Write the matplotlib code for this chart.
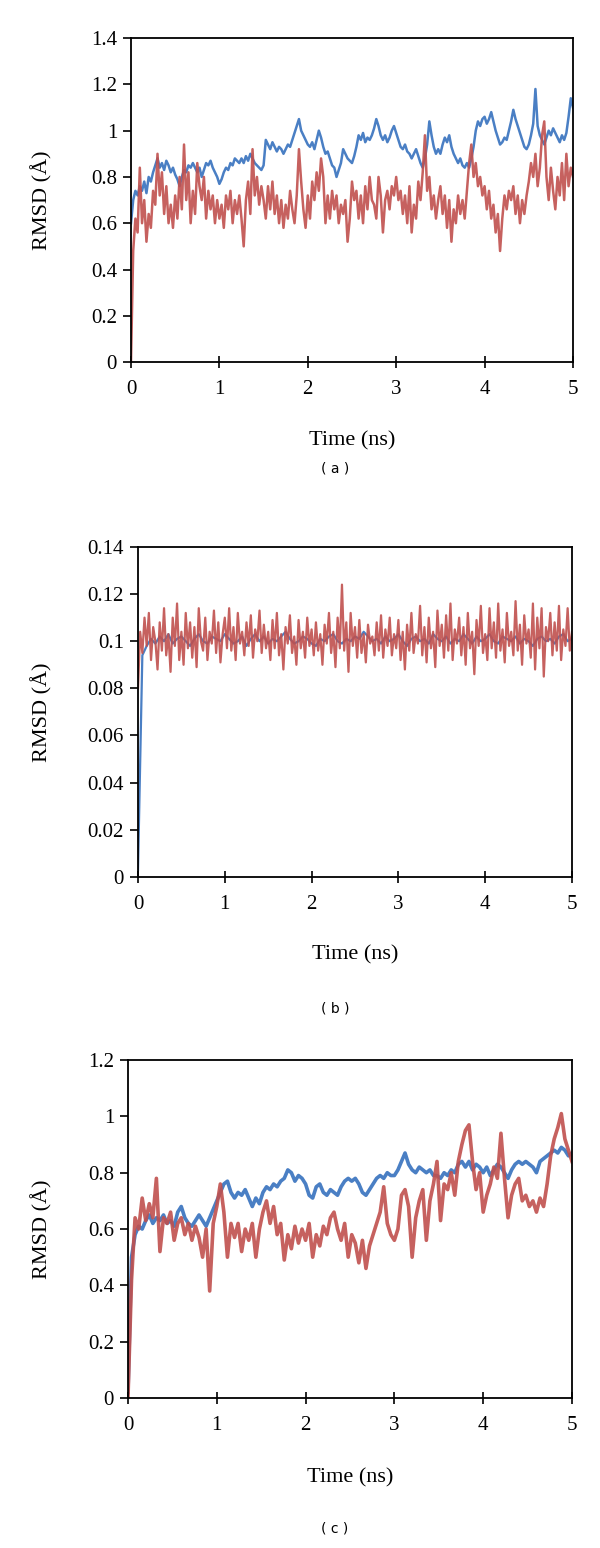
import numpy as np
import matplotlib.pyplot as plt
from matplotlib.ticker import FuncFormatter

# ---- panel (a) : 0.025 ns step ----
blue_a = [0.60, 0.70, 0.74, 0.72, 0.76, 0.74, 0.78, 0.73, 0.80, 0.78,
          0.82, 0.85, 0.88, 0.84, 0.86, 0.83, 0.87, 0.85, 0.82, 0.84,
          0.81, 0.79, 0.76, 0.80, 0.83, 0.82, 0.85, 0.84, 0.86, 0.84,
          0.82, 0.84, 0.80, 0.83, 0.86, 0.85, 0.87, 0.84, 0.82, 0.80,
          0.77, 0.79, 0.82, 0.84, 0.83, 0.86, 0.85, 0.88, 0.87, 0.86,
          0.88, 0.86, 0.89, 0.87, 0.90, 0.88, 0.86, 0.85, 0.84, 0.83,
          0.85, 0.96, 0.94, 0.92, 0.95, 0.93, 0.91, 0.93, 0.92, 0.90,
          0.92, 0.94, 0.93, 0.96, 0.99, 1.02, 1.05, 1.00, 0.98, 0.96,
          0.94, 0.93, 0.95, 0.92, 0.96, 1.00, 0.97, 0.93, 0.90, 0.91,
          0.88, 0.85, 0.84, 0.80, 0.83, 0.86, 0.92, 0.90, 0.88, 0.87,
          0.86, 0.89, 0.93, 0.98, 0.96, 0.99, 0.95, 0.97, 0.96, 0.98,
          1.01, 1.05, 1.02, 0.98, 0.96, 0.98, 0.95, 0.97, 1.00, 1.02,
          0.99, 0.96, 0.93, 0.92, 0.94, 0.91, 0.90, 0.88, 0.90, 0.92,
          0.89, 0.86, 0.84, 0.88, 0.94, 1.04, 0.98, 0.93, 0.90, 0.92,
          0.90, 0.94, 0.97, 0.95, 0.98, 0.93, 0.90, 0.88, 0.86, 0.88,
          0.85, 0.84, 0.86, 0.84, 0.88, 0.93, 1.00, 1.04, 1.02, 1.05,
          1.06, 1.03, 1.05, 1.08, 1.04, 1.00, 0.97, 0.94, 0.95, 0.97,
          0.96, 1.00, 1.04, 1.09, 1.05, 1.02, 0.99, 0.96, 0.93, 0.92,
          0.94, 0.98, 1.03, 1.18, 1.02, 0.98, 0.96, 0.94, 0.97, 1.00,
          0.98, 1.01, 0.99, 0.97, 0.95, 0.98, 0.96, 0.99, 1.06, 1.14,
          1.10]
red_a = [0.00, 0.48, 0.62, 0.56, 0.84, 0.60, 0.70, 0.52, 0.64, 0.58,
         0.74, 0.68, 0.90, 0.72, 0.82, 0.64, 0.76, 0.60, 0.68, 0.58,
         0.72, 0.62, 0.80, 0.66, 0.94, 0.70, 0.82, 0.60, 0.74, 0.64,
         0.86, 0.76, 0.70, 0.80, 0.62, 0.74, 0.66, 0.72, 0.60, 0.70,
         0.62, 0.68, 0.58, 0.72, 0.66, 0.74, 0.60, 0.70, 0.64, 0.72,
         0.62, 0.50, 0.70, 0.78, 0.64, 0.92, 0.72, 0.80, 0.68, 0.76,
         0.70, 0.62, 0.76, 0.66, 0.78, 0.64, 0.72, 0.60, 0.70, 0.58,
         0.68, 0.62, 0.74, 0.66, 0.60, 0.72, 0.92, 0.78, 0.66, 0.58,
         0.72, 0.62, 0.78, 0.70, 0.82, 0.74, 0.88, 0.80, 0.60, 0.72,
         0.62, 0.74, 0.66, 0.72, 0.60, 0.68, 0.64, 0.70, 0.52, 0.62,
         0.78, 0.70, 0.74, 0.62, 0.72, 0.60, 0.76, 0.66, 0.80, 0.70,
         0.68, 0.62, 0.80, 0.72, 0.56, 0.70, 0.74, 0.66, 0.76, 0.72,
         0.80, 0.70, 0.74, 0.64, 0.72, 0.60, 0.76, 0.56, 0.68, 0.62,
         0.78, 0.70, 0.82, 0.98, 0.74, 0.80, 0.66, 0.72, 0.62, 0.70,
         0.76, 0.64, 0.72, 0.58, 0.70, 0.52, 0.66, 0.60, 0.72, 0.64,
         0.70, 0.62, 0.74, 0.86, 0.94, 0.80, 0.86, 0.76, 0.80, 0.72,
         0.76, 0.66, 0.74, 0.62, 0.68, 0.56, 0.64, 0.48, 0.62, 0.72,
         0.66, 0.74, 0.70, 0.76, 0.64, 0.72, 0.60, 0.70, 0.64, 0.72,
         0.78, 0.86, 0.80, 0.90, 0.76, 0.84, 0.98, 1.04, 0.80, 0.70,
         0.84, 0.74, 0.66, 0.80, 0.72, 0.86, 0.70, 0.90, 0.76, 0.84,
         0.80]

# ---- panel (b) : blue 0.05 ns step, red 0.025 ns step ----
blue_b = [0.003, 0.094, 0.098, 0.101, 0.099, 0.102, 0.100, 0.103, 0.099, 0.101,
          0.102, 0.100, 0.098, 0.101, 0.103, 0.100, 0.099, 0.102, 0.101, 0.100,
          0.103, 0.101, 0.099, 0.100, 0.102, 0.098, 0.101, 0.103, 0.100, 0.102,
          0.099, 0.101, 0.100, 0.102, 0.104, 0.101, 0.099, 0.100, 0.102, 0.101,
          0.099, 0.098, 0.101, 0.100, 0.102, 0.103, 0.100, 0.099, 0.101, 0.100,
          0.102, 0.101, 0.104, 0.102, 0.100, 0.101, 0.099, 0.102, 0.100, 0.101,
          0.103, 0.100, 0.098, 0.101, 0.102, 0.100, 0.101, 0.099, 0.103, 0.101,
          0.100, 0.102, 0.099, 0.101, 0.100, 0.103, 0.101, 0.099, 0.102, 0.100,
          0.101, 0.103, 0.100, 0.099, 0.102, 0.101, 0.100, 0.102, 0.099, 0.101,
          0.100, 0.098, 0.101, 0.102, 0.100, 0.101, 0.099, 0.102, 0.103, 0.100,
          0.101]
red_b = [0.080, 0.104, 0.095, 0.110, 0.098, 0.112, 0.092, 0.106, 0.100, 0.088,
         0.108, 0.096, 0.114, 0.094, 0.103, 0.087, 0.110, 0.098, 0.116, 0.092,
         0.104, 0.090, 0.112, 0.097, 0.108, 0.093, 0.106, 0.089, 0.114, 0.100,
         0.096, 0.110, 0.092, 0.104, 0.099, 0.113, 0.095, 0.108, 0.091, 0.103,
         0.110, 0.097, 0.114, 0.096, 0.106, 0.092, 0.112, 0.099, 0.104, 0.094,
         0.108, 0.098, 0.111, 0.093, 0.105, 0.100, 0.113, 0.095, 0.107, 0.097,
         0.104, 0.092, 0.109, 0.097, 0.112, 0.094, 0.103, 0.088, 0.106, 0.099,
         0.111, 0.095, 0.102, 0.090, 0.109, 0.097, 0.104, 0.093, 0.110, 0.098,
         0.105, 0.094, 0.108, 0.096, 0.103, 0.090, 0.107, 0.099, 0.112, 0.095,
         0.104, 0.089, 0.110, 0.097, 0.124, 0.096, 0.108, 0.087, 0.112, 0.098,
         0.106, 0.093, 0.109, 0.095, 0.103, 0.091, 0.107, 0.099, 0.102, 0.094,
         0.108, 0.096, 0.111, 0.093, 0.105, 0.098, 0.110, 0.094, 0.103, 0.097,
         0.109, 0.092, 0.104, 0.088, 0.107, 0.096, 0.112, 0.095, 0.103, 0.099,
         0.115, 0.094, 0.106, 0.091, 0.110, 0.097, 0.104, 0.089, 0.113, 0.098,
         0.107, 0.093, 0.111, 0.096, 0.116, 0.092, 0.105, 0.099, 0.110, 0.094,
         0.106, 0.090, 0.112, 0.097, 0.104, 0.086, 0.109, 0.098, 0.115, 0.095,
         0.103, 0.092, 0.114, 0.097, 0.108, 0.093, 0.116, 0.096, 0.105, 0.091,
         0.112, 0.098, 0.104, 0.094, 0.117, 0.096, 0.107, 0.090, 0.111, 0.099,
         0.105, 0.093, 0.116, 0.088, 0.110, 0.097, 0.114, 0.085, 0.106, 0.100,
         0.112, 0.094, 0.108, 0.096, 0.115, 0.092, 0.105, 0.098, 0.114, 0.096,
         0.104]

# ---- panel (c) : 0.04 ns step ----
blue_c = [0.02, 0.50, 0.58, 0.61, 0.60, 0.63, 0.65, 0.62, 0.64, 0.63,
          0.65, 0.62, 0.63, 0.61, 0.66, 0.68, 0.64, 0.62, 0.61, 0.63,
          0.65, 0.63, 0.61, 0.64, 0.67, 0.70, 0.73, 0.76, 0.77, 0.73,
          0.71, 0.73, 0.72, 0.74, 0.71, 0.68, 0.71, 0.69, 0.73, 0.75,
          0.74, 0.76, 0.75, 0.77, 0.78, 0.81, 0.80, 0.77, 0.79, 0.78,
          0.76, 0.72, 0.71, 0.75, 0.76, 0.73, 0.72, 0.74, 0.73, 0.72,
          0.75, 0.77, 0.78, 0.77, 0.78, 0.76, 0.73, 0.72, 0.74, 0.76,
          0.78, 0.79, 0.78, 0.80, 0.79, 0.79, 0.81, 0.84, 0.87, 0.83,
          0.81, 0.80, 0.82, 0.81, 0.80, 0.81, 0.79, 0.79, 0.78, 0.80,
          0.79, 0.81, 0.80, 0.83, 0.84, 0.82, 0.84, 0.81, 0.83, 0.82,
          0.80, 0.82, 0.79, 0.81, 0.83, 0.82, 0.80, 0.78, 0.81, 0.83,
          0.84, 0.83, 0.84, 0.83, 0.82, 0.80, 0.84, 0.85, 0.86, 0.87,
          0.88, 0.87, 0.89, 0.88, 0.86, 0.87]
red_c = [0.00, 0.42, 0.64, 0.60, 0.71, 0.63, 0.69, 0.64, 0.78, 0.52,
         0.64, 0.62, 0.66, 0.56, 0.62, 0.64, 0.58, 0.62, 0.56, 0.61,
         0.57, 0.50, 0.60, 0.38, 0.62, 0.68, 0.76, 0.66, 0.50, 0.62,
         0.57, 0.62, 0.52, 0.60, 0.56, 0.62, 0.50, 0.60, 0.66, 0.70,
         0.62, 0.68, 0.58, 0.62, 0.49, 0.58, 0.53, 0.61, 0.55, 0.60,
         0.56, 0.62, 0.50, 0.58, 0.54, 0.61, 0.58, 0.64, 0.66, 0.60,
         0.56, 0.62, 0.50, 0.58, 0.55, 0.48, 0.56, 0.46, 0.54, 0.58,
         0.62, 0.66, 0.75, 0.62, 0.58, 0.56, 0.60, 0.72, 0.74, 0.68,
         0.50, 0.64, 0.70, 0.74, 0.56, 0.70, 0.76, 0.84, 0.63, 0.76,
         0.74, 0.80, 0.72, 0.84, 0.90, 0.95, 0.97, 0.84, 0.74, 0.80,
         0.66, 0.72, 0.76, 0.82, 0.78, 0.94, 0.78, 0.64, 0.72, 0.76,
         0.78, 0.70, 0.72, 0.68, 0.70, 0.66, 0.71, 0.68, 0.76, 0.86,
         0.92, 0.96, 1.01, 0.92, 0.88, 0.84]

BLUE = '#4a7fc4'
RED = '#c0504d'
serif = ['Liberation Serif', 'DejaVu Serif']

fig = plt.figure(figsize=(6, 15.48), dpi=100)

panels = [
    # axes rect, blue, red, ymax, ystep, line width, xlabel y px, caption y px, caption
    ([0.2183, 0.7661, 0.7367, 0.2093], blue_a, red_a, 1.4, 0.2, 1.8, 441, 468, '( a )'),
    ([0.2300, 0.4335, 0.7233, 0.2132], blue_b, red_b, 0.14, 0.02, 1.6, 955, 1008, '( b )'),
    ([0.2133, 0.0969, 0.7400, 0.2183], blue_c, red_c, 1.2, 0.2, 2.6, 1478, 1528, '( c )'),
]

for rect, blue, red, ymax, ystep, lw, xl_y, cap_y, cap in panels:
    ax = fig.add_axes(rect)
    tb = np.linspace(0, 5, len(blue))
    tr = np.linspace(0, 5, len(red))
    ax.plot(tb, blue, color=BLUE, lw=lw)
    ax.plot(tr, red, color=RED, lw=lw, alpha=0.9)
    ax.set_xlim(0, 5)
    ax.set_ylim(0, ymax)
    ax.set_xticks(np.arange(0, 6, 1))
    ax.set_yticks(np.arange(0, ymax + ystep / 2, ystep))
    ax.yaxis.set_major_formatter(FuncFormatter(lambda v, p: '%g' % round(v, 3)))
    ax.tick_params(axis='x', direction='inout', length=8, width=1.2, pad=9)
    ax.tick_params(axis='y', direction='out', length=6, width=1.2, pad=4)
    for lab in ax.get_xticklabels() + ax.get_yticklabels():
        lab.set_family(serif)
        lab.set_fontsize(15)
    for s in ax.spines.values():
        s.set_linewidth(1.3)
    fig.text(rect[0] + rect[2] / 2, 1 - xl_y / 1548, 'Time (ns)',
             family=serif, fontsize=16, ha='center', va='center')
    fig.text(42 / 600, rect[1] + rect[3] / 2, 'RMSD (Å)', family=serif,
             fontsize=16, rotation=90, ha='center', va='center')
    fig.text(335 / 600, 1 - cap_y / 1548, cap, fontsize=10, ha='center',
             va='center')

fig.savefig('out.png', dpi=100)
